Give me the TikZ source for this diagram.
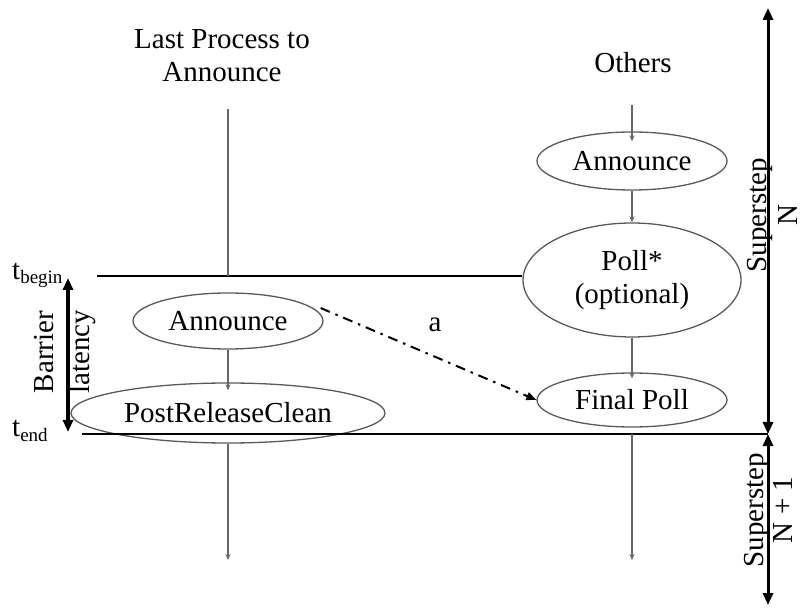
\documentclass[tikz,border=0pt]{standalone}
\usepackage{fontspec}
\setmainfont{Liberation Serif}
\usetikzlibrary{shapes.geometric,arrows.meta}
\begin{document}
\begin{tikzpicture}[x=1pt,y=-1pt,
  every node/.style={font=\fontsize{29}{33}\selectfont, inner sep=0pt},
  proc/.style={ellipse, draw=black!65, line width=1.3pt},
  flow/.style={draw=black!60, line width=1.2pt, -{Stealth[open,length=6pt,width=5pt]}},
  wire/.style={draw=black!60, line width=1.2pt},
  timeline/.style={line width=2.4pt},
  span/.style={line width=3pt, {Triangle[length=12pt,width=10pt]}-{Triangle[length=12pt,width=10pt]}},
  msg/.style={line width=2pt, dash pattern=on 10pt off 6pt on 2.5pt off 6pt, -{Triangle[length=10pt,width=8pt]}}
]
\useasboundingbox (0,0) rectangle (806,609);

% column headings
\node[align=center] (lasthead) at (222,56) {Last Process to\\Announce};
\node (othhead) at (633,63) {Others};

% processes of the last announcer
\node[proc, minimum width=190pt, minimum height=56pt] (lann) at (228,321) {Announce};
\node[proc, minimum width=314pt, minimum height=60pt] (prc) at (228,413) {PostReleaseClean};

% processes of the other participants
\node[proc, minimum width=190pt, minimum height=58pt] (rann) at (632,161) {Announce};
\node[proc, minimum width=218pt, minimum height=114pt, align=center] (poll) at (632,280) {Poll*\\(optional)};
\node[proc, minimum width=190pt, minimum height=54pt] (fpoll) at (632,400) {Final Poll};

% free ends of the flow lines
\coordinate (ltop) at (228,109);
\coordinate (lbot) at (228,560);
\coordinate (rtop) at (632,105);
\coordinate (rbot) at (632,560);

% time marks
\coordinate (tbL) at (97,276);
\coordinate (teL) at (82,434);
\coordinate (teR) at (768,434);
\node[anchor=base west] (tbegin) at (12,280) {t\raisebox{-4pt}{\fontsize{19}{19}\selectfont begin}};
\node[anchor=base west] (tend) at (12,437) {t\raisebox{-5pt}{\fontsize{19}{19}\selectfont end}};
\draw[timeline] (tbL) -- (tbL -| poll.west);
\draw[timeline] (teL) -- (teR);

% flow lines
\draw[wire] (ltop) -- (ltop |- tbL);
\draw[flow] (lann.south) -- ([yshift=-8pt]prc.north);
\draw[flow] (prc.south) -- (lbot);
\draw[flow] (rtop) -- ([yshift=-10pt]rann.north);
\draw[flow] (rann.south) -- (poll.north);
\draw[flow] (poll.south) -- ([yshift=-6pt]fpoll.north);
\draw[flow] (fpoll.south |- teR) -- (rbot);

% release message
\draw[msg] (lann.east) ++(-3,-13) coordinate (msgstart) (msgstart) -- (fpoll.west);
\node (alabel) at (435,325) {a};

% barrier latency
\coordinate (barT) at (68,278);
\coordinate (barB) at (68,432);
\draw[span, line width=3.5pt] (barT) -- (barB);
\node[rotate=90, align=center, font=\fontsize{29}{36}\selectfont] (barlab) at (65,352) {Barrier\\latency};

% supersteps
\coordinate (ssTop) at (768,8);
\coordinate (ssBot) at (768,605);
\draw[span] (ssTop) -- (teR);
\draw[span] (teR) -- (ssBot);
\node[rotate=90, align=center, font=\fontsize{29}{31}\selectfont] (ssN) at (772,215) {Superstep\\N};
\node[rotate=90, align=center, font=\fontsize{29}{29}\selectfont] (ssN1) at (768,510) {Superstep\\N + 1};
\end{tikzpicture}
\end{document}
